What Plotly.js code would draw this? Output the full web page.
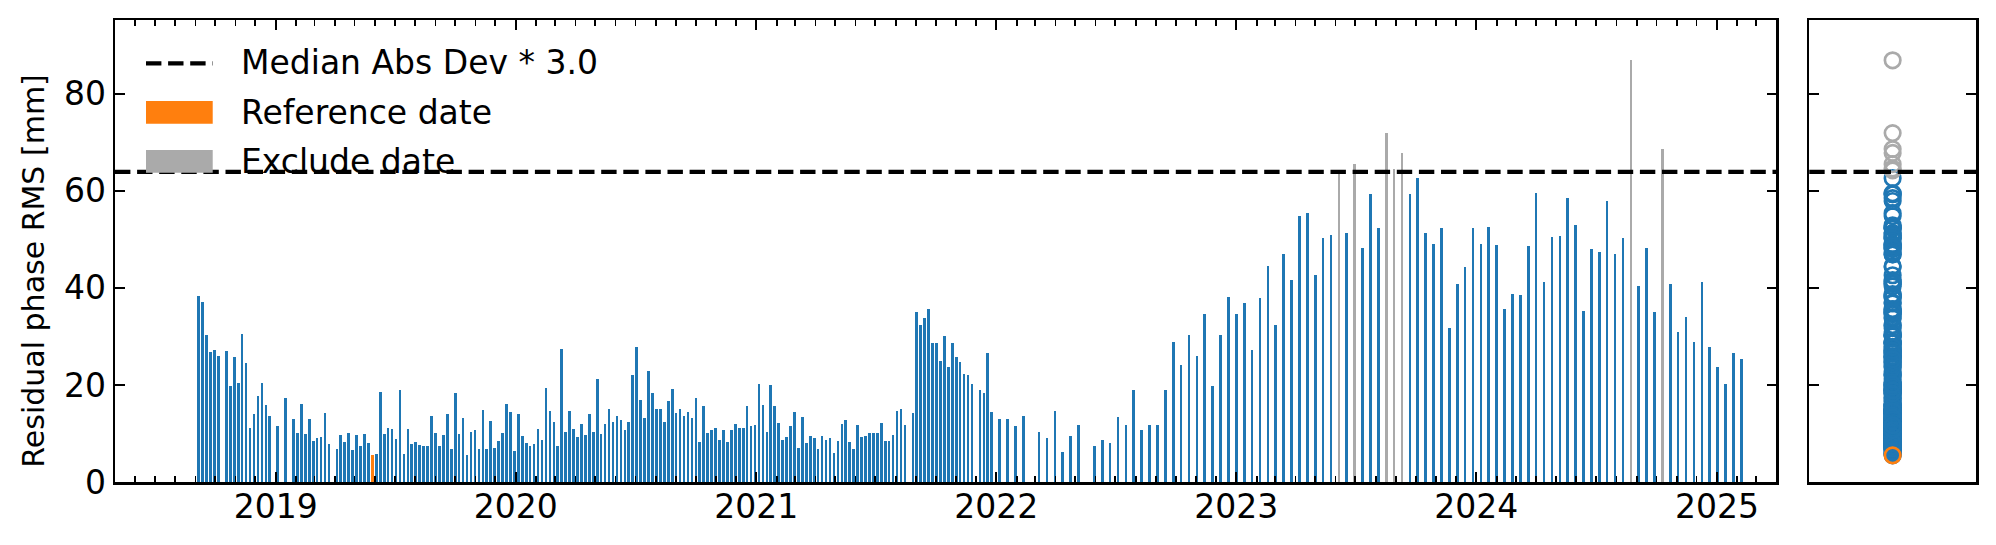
<!DOCTYPE html>
<html>
<head>
<meta charset="utf-8">
<script src="https://cdn.plot.ly/plotly-3.0.1.min.js"></script>
<style>html,body{margin:0;padding:0;background:#fff;}#chart{width:1996px;height:545px;}</style>
</head>
<body>
<div id="chart"></div>
<script>
// Acquisition grid: 6-day repeat cycle counted from the first acquisition date
const startDate = '2018-09-06';
const cycleDays = 6;

// Regular acquisitions (cycle index) and residual phase RMS [mm]
const idxMain = [
  0,1,2,3,4,5,7,8,9,10,11,12,13,14,15,16,17,18,20,22,24,25,26,27,28,29,30,31,32,33,35,36,37,38,39,40,41,42,43,45,46,47,48,49,50,51,
  52,53,54,55,56,57,58,59,60,61,62,63,64,65,66,67,68,69,70,71,72,73,74,75,76,77,78,79,80,81,82,83,84,85,86,87,88,89,90,91,92,93,94,95,96,97,98,99,100,101,102,103,
  104,105,106,107,108,109,110,111,112,113,114,115,116,117,118,119,120,121,122,123,124,125,126,127,128,129,130,131,132,133,134,135,136,137,138,139,140,141,142,143,144,145,146,147,148,149,150,151,152,153,154,155,
  156,157,158,159,160,161,162,163,164,165,166,167,168,169,170,171,172,173,174,175,176,177,178,179,
  181,182,183,184,185,186,187,188,189,190,191,192,193,194,195,196,
  198,199,200,201,
  203,205,207,209,213,215,217,219,221,223,227,229,231,233,235,237,239,241,243,245,247,249,251,253,255,257,259,261,263,265,267,269,
  271,273,275,277,279,281,283,285,287,291,295,297,299,307,309,311,313,315,317,319,321,323,325,327,329,331,
  333,335,337,339,341,343,345,347,349,351,353,355,357,359,361,365,367,369,373,375,377,379,381,383,385,387,389,391
];
const rmsMain = [
  38.3,37.0,30.2,26.7,27.1,25.9,26.9,19.7,25.7,20.5,30.4,24.5,11.1,14.0,17.7,20.5,15.8,13.5,11.5,17.3,12.9,10.0,16.0,9.8,12.9,8.4,9.0,9.2,14.2,7.8,6.9,9.6,8.2,10.0,6.5,9.6,7.4,9.8,8.0,5.7,18.5,9.8,11.1,10.9,8.8,18.9,
  5.7,10.9,7.8,8.2,7.6,7.4,7.4,13.5,10.2,7.4,9.6,14.0,6.9,18.3,9.8,13.1,5.5,10.4,10.7,6.7,14.8,6.9,12.5,7.1,8.4,10.2,16.0,14.4,6.3,14.0,9.4,8.0,7.4,7.8,10.9,8.6,19.3,14.6,12.3,7.4,27.4,10.4,14.6,10.9,9.2,11.9,9.6,14.0,10.4,21.2,9.8,11.9,
  15.0,12.3,13.5,12.7,10.7,12.3,22.0,27.8,16.8,13.1,22.8,18.3,15.0,15.0,12.3,16.6,19.1,14.2,15.0,13.7,14.4,13.1,17.3,8.2,15.6,10.2,10.7,11.1,8.6,10.7,8.2,10.7,11.9,11.1,11.1,15.6,11.5,11.7,20.1,15.8,10.4,19.9,15.6,12.1,8.6,9.2,11.5,14.4,7.1,13.3,8.0,9.4,
  9.0,6.9,9.4,8.6,9.0,5.9,8.4,11.9,12.7,8.2,6.9,11.7,9.2,9.4,10.0,10.2,10.0,12.1,8.4,8.4,9.6,14.6,15.0,11.7,
  14.2,35.0,32.3,33.7,35.6,28.6,28.6,24.9,30.0,23.8,28.6,25.7,24.7,22.2,22.0,20.1,
  18.9,18.3,26.5,14.4,
  12.9,12.9,11.5,13.7,10.4,9.0,14.6,6.1,9.4,11.7,7.4,8.6,8.0,13.3,11.7,18.9,10.7,11.7,11.7,18.9,28.8,24.1,30.2,25.9,34.6,19.7,30.2,38.1,34.6,36.8,27.1,37.9,
  44.5,32.3,46.9,41.6,54.8,55.4,42.6,50.2,50.9,51.3,48.2,59.3,52.3,59.3,62.6,51.3,49.0,52.3,31.7,40.8,44.3,52.3,49.0,52.5,48.8,35.6,
  38.7,38.5,48.6,59.5,41.2,50.4,50.7,58.5,52.9,35.2,48.0,47.4,57.9,46.9,50.2,40.3,48.2,35.0,40.8,30.9,34.0,28.8,41.2,27.8,23.6,20.1,26.5,25.3
];

// Reference date
const idxRef = [44];
const rmsRef = [5.5];

// Excluded dates
const idxExcl = [289, 293, 301, 303, 305, 363, 371];
const rmsExcl = [64.2, 65.5, 71.9, 64.6, 67.8, 86.9, 68.6];

// Threshold: median absolute deviation * 3.0
const threshold = 63.9;

const legendLabels = ['Median Abs Dev * 3.0', 'Reference date', 'Exclude date'];
const yTitle = 'Residual phase RMS [mm]';

const C_BLUE = '#1f77b4', C_ORANGE = '#ff7f0e', C_GRAY = '#aaaaaa';
const DAY = 86400000;
const t0 = Date.parse(startDate + 'T00:00:00Z');
const toDate = i => new Date(t0 + i * cycleDays * DAY).toISOString().slice(0, 10);
const barWidth = 4 * DAY;

function barTrace(idx, vals, color) {
  return {
    type: 'bar', x: idx.map(toDate), y: vals, width: idx.map(() => barWidth),
    marker: {color: color, line: {width: 0}}, xaxis: 'x', yaxis: 'y', hoverinfo: 'x+y'
  };
}
function dotTrace(vals, color) {
  return {
    type: 'scatter', mode: 'markers', x: vals.map(() => 0), y: vals,
    marker: {symbol: 'circle-open', size: 15.5, color: color, line: {width: 2.7, color: color}},
    xaxis: 'x2', yaxis: 'y2', hoverinfo: 'y'
  };
}

const data = [
  barTrace(idxMain, rmsMain, C_BLUE),
  barTrace(idxRef, rmsRef, C_ORANGE),
  barTrace(idxExcl, rmsExcl, C_GRAY),
  dotTrace(rmsMain, C_BLUE),
  dotTrace(rmsExcl, C_GRAY),
  dotTrace(rmsRef, C_ORANGE)
];

const W = 1996, H = 545;
const mL = 115, mR = 20.3, mT = 20, mB = 63.3;
const pw = W - mL - mR, ph = H - mT - mB;
const px = x => (x - mL) / pw;
const py = y => (H - mB - y) / ph;

const yr = [0, 95.2];
const axCommon = {
  showgrid: false, zeroline: false, showline: true, linecolor: 'black', linewidth: 2.5,
  mirror: 'allticks', tickcolor: 'black', tickfont: {family: 'DejaVu Sans', size: 33, color: 'black'}
};

const layout = {
  width: W, height: H,
  margin: {l: mL, r: mR, t: mT, b: mB, pad: 0},
  paper_bgcolor: 'white', plot_bgcolor: 'white',
  font: {family: 'DejaVu Sans', size: 33, color: 'black'},
  showlegend: false, barmode: 'overlay', bargap: 0,
  xaxis: Object.assign({}, axCommon, {
    domain: [0, px(1776)], anchor: 'y', type: 'date',
    range: ['2018-05-01 14:00', '2025-04-01 05:00'],
    ticks: 'inside', ticklen: 9.7, tickwidth: 2.2,
    dtick: 'M12', tick0: '2019-01-01', tickformat: '%Y', ticklabelstandoff: -6,
    minor: {dtick: 'M1', tick0: '2019-01-01', ticks: 'inside', ticklen: 5.6, tickwidth: 1.7, tickcolor: 'black', showgrid: false}
  }),
  yaxis: Object.assign({}, axCommon, {
    domain: [0, 1], anchor: 'x', range: yr, dtick: 20, tick0: 0,
    ticks: 'inside', ticklen: 9.7, tickwidth: 2.2
  }),
  xaxis2: Object.assign({}, axCommon, {
    domain: [px(1809), 1], anchor: 'y2', range: [-1, 1], showticklabels: false, ticks: '', mirror: true
  }),
  yaxis2: Object.assign({}, axCommon, {
    domain: [0, 1], anchor: 'x2', range: yr, dtick: 20, tick0: 0, showticklabels: false,
    ticks: 'inside', ticklen: 9.7, tickwidth: 2.2
  }),
  shapes: [
    {type: 'line', xref: 'x domain', yref: 'y', x0: 0, x1: 1, y0: threshold, y1: threshold,
     line: {color: 'black', width: 4.2, dash: '15.4px,6.7px'}, layer: 'above'},
    {type: 'line', xref: 'x2 domain', yref: 'y2', x0: 0, x1: 1, y0: threshold, y1: threshold,
     line: {color: 'black', width: 4.2, dash: '15.4px,6.7px'}, layer: 'above'},
    // legend handles
    {type: 'line', xref: 'paper', yref: 'paper', x0: px(146), x1: px(212.7), y0: py(63.3), y1: py(63.3),
     line: {color: 'black', width: 4.2, dash: '15.4px,6.7px'}},
    {type: 'rect', xref: 'paper', yref: 'paper', x0: px(146), x1: px(212.7), y0: py(123.7), y1: py(101),
     fillcolor: C_ORANGE, line: {width: 0}},
    {type: 'rect', xref: 'paper', yref: 'paper', x0: px(146), x1: px(212.7), y0: py(172.7), y1: py(150),
     fillcolor: C_GRAY, line: {width: 0}}
  ],
  annotations: legendLabels.map((t, i) => ({
    xref: 'paper', yref: 'paper', x: px(239.3), y: py([62.8, 112, 161][i]),
    xanchor: 'left', yanchor: 'middle', showarrow: false, text: t,
    font: {family: 'DejaVu Sans', size: 33, color: 'black'}
  })).concat([{
    // figure-level y label, centred on the figure height
    xref: 'paper', yref: 'paper', x: px(34), y: py(H / 2 - 2),
    xanchor: 'center', yanchor: 'middle', textangle: -90, showarrow: false, text: yTitle,
    font: {family: 'DejaVu Sans', size: 30, color: 'black'}
  }])
};

Plotly.newPlot('chart', data, layout, {displayModeBar: false, staticPlot: true});
</script>
</body>
</html>
